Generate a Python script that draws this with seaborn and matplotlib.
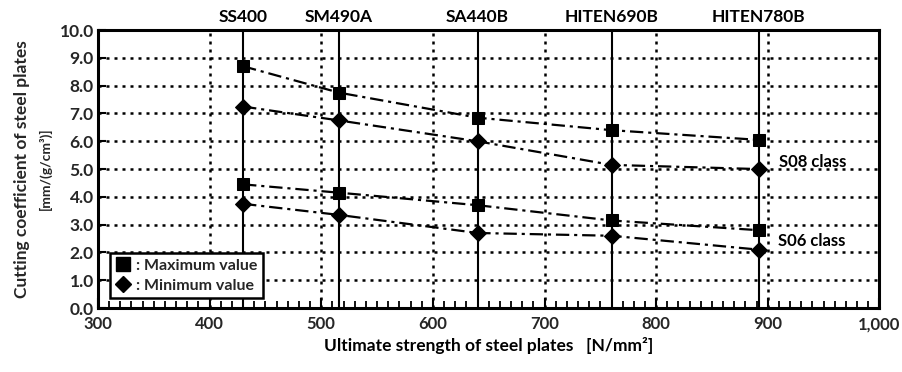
import matplotlib
matplotlib.use("Agg")
import matplotlib.pyplot as plt
import matplotlib.ticker as mticker
from matplotlib.lines import Line2D
from matplotlib.transforms import blended_transform_factory
import seaborn as sns
import pandas as pd

# Steel grades and their ultimate strength positions [N/mm2]
grades = ["SS400", "SM490A", "SA440B", "HITEN690B", "HITEN780B"]
strength = [430, 516, 640, 760, 892]

# Cutting coefficient [mm/(g/cm3)] per class
s08_max = [8.7, 7.75, 6.85, 6.4, 6.05]
s08_min = [7.25, 6.75, 6.0, 5.15, 5.0]
s06_max = [4.45, 4.15, 3.7, 3.15, 2.8]
s06_min = [3.75, 3.35, 2.7, 2.6, 2.1]

x_ticks = [300, 400, 500, 600, 700, 800, 900, 1000]
y_ticks = [0.0, 1.0, 2.0, 3.0, 4.0, 5.0, 6.0, 7.0, 8.0, 9.0, 10.0]

sns.set_theme(style="white")
plt.rcParams["font.family"] = ["Lato", "DejaVu Sans"]
plt.rcParams["font.weight"] = "bold"

fig = plt.figure(figsize=(9.02, 3.72), dpi=100)
ax = fig.add_axes([0.1086, 0.172, 0.8664, 0.747])

ax.set_xlim(300, 1000)
ax.set_ylim(0, 10)

dotted = (0, (1.2, 2.0))
for xv in x_ticks[1:-1]:
    ax.axvline(xv, color="black", lw=1.8, ls=dotted, zorder=1)
for yv in y_ticks[1:-1]:
    ax.axhline(yv, color="black", lw=1.8, ls=dotted, zorder=1)

# Solid reference line for each grade
for xv in strength:
    ax.axvline(xv, color="black", lw=1.5, zorder=2)

df = pd.DataFrame({
    "strength": strength * 4,
    "value": s08_max + s08_min + s06_max + s06_min,
    "series": (["S08 max"] * 5 + ["S08 min"] * 5 +
               ["S06 max"] * 5 + ["S06 min"] * 5),
})
marker_for = {"S08 max": "s", "S08 min": "D", "S06 max": "s", "S06 min": "D"}
dashdot = (0, (6, 2.2, 1.4, 2.2))
for name, sub in df.groupby("series", sort=False):
    sns.lineplot(data=sub, x="strength", y="value", ax=ax, color="black",
                 lw=1.6, marker=marker_for[name], markersize=8.3,
                 markeredgecolor="black", markerfacecolor="black",
                 legend=False, zorder=3)
    ax.lines[-1].set_linestyle(dashdot)

ax.set_xticks(x_ticks)
ax.set_yticks(y_ticks)
ax.xaxis.set_major_formatter(mticker.FuncFormatter(lambda v, p: f"{v:,.0f}"))
ax.yaxis.set_major_formatter(mticker.FormatStrFormatter("%.1f"))
ax.xaxis.set_minor_locator(mticker.MultipleLocator(10))
ax.tick_params(axis="x", which="minor", direction="in", length=5, width=1.3,
               bottom=True, top=False, color="black")
ax.tick_params(axis="x", which="major", direction="in", length=7, width=1.5,
               bottom=True, color="black", labelsize=12, pad=6)
ax.tick_params(axis="y", which="major", direction="in", length=6, width=1.5,
               left=True, color="black", labelsize=12.5, pad=3)
for lab in ax.get_xticklabels() + ax.get_yticklabels():
    lab.set_fontweight("bold")

for sp in ax.spines.values():
    sp.set_color("black")
    sp.set_linewidth(2.2)
    sp.set_visible(True)

ax.set_xlabel("Ultimate strength of steel plates   [N/mm²]",
              fontsize=12.5, fontweight="bold", labelpad=3, color="black")
ax.set_ylabel("")
fig.text(0.024, 0.546, "Cutting coefficient of steel plates", rotation=90,
         ha="center", va="center", fontsize=12.5, fontweight="bold")
fig.text(0.050, 0.546, "[mm/(g/cm³)]", rotation=90,
         ha="center", va="center", fontsize=10, fontweight="bold")

# Grade names above the plot
trans = blended_transform_factory(ax.transData, ax.transAxes)
for g, xv in zip(grades, strength):
    ax.text(xv, 1.02, g, transform=trans, ha="center", va="bottom",
            fontsize=12.5, fontweight="bold", color="black")

ax.text(910, 5.25, "S08 class", ha="left", va="center", fontsize=12,
        fontweight="bold", color="black")
ax.text(909, 2.4, "S06 class", ha="left", va="center", fontsize=12,
        fontweight="bold", color="black")

handles = [
    Line2D([], [], ls="none", marker="s", ms=10, color="black"),
    Line2D([], [], ls="none", marker="D", ms=8.5, color="black"),
]
leg = ax.legend(handles, [": Maximum value", ": Minimum value"],
                loc="lower left", bbox_to_anchor=(0.015, 0.035),
                frameon=True, fancybox=False, fontsize=11.5,
                handlelength=1.0, handletextpad=0.3, borderpad=0.35,
                labelspacing=0.35, borderaxespad=0.0)
leg.get_frame().set_edgecolor("black")
leg.get_frame().set_linewidth(1.8)
leg.get_frame().set_facecolor("white")
leg.get_frame().set_alpha(1.0)
leg.set_zorder(5)
for t in leg.get_texts():
    t.set_fontweight("bold")

fig.savefig("out.png", dpi=100, facecolor="white")
